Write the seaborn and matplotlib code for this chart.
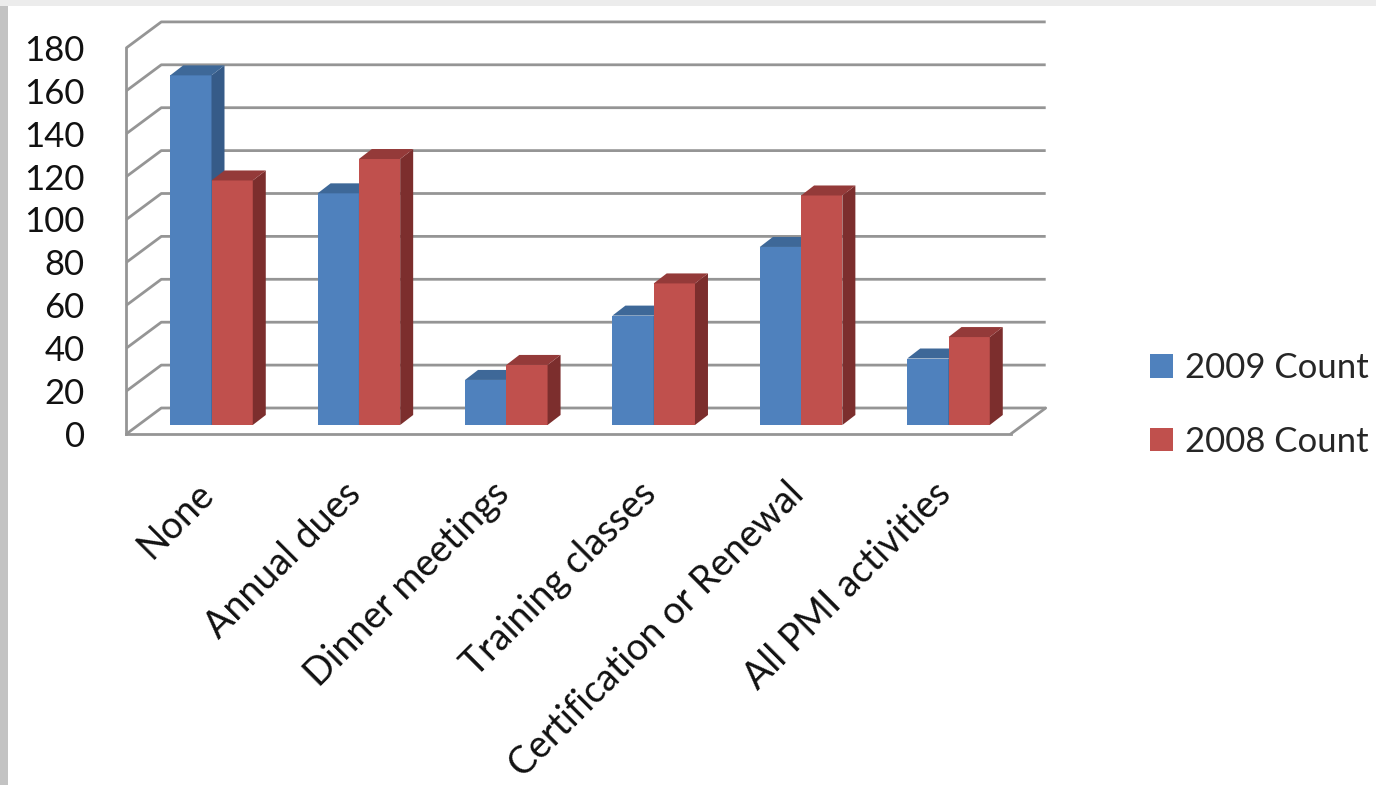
import numpy as np
import pandas as pd
import seaborn as sns
from matplotlib import pyplot as plt
from matplotlib.patches import Polygon, Patch, Rectangle

categories = ["None", "Annual dues", "Dinner meetings", "Training classes",
              "Certification or Renewal", "All PMI activities"]
count_2009 = [163, 108, 21, 51, 83, 31]
count_2008 = [114, 124, 28, 66, 107, 41]
series = ["2009 Count", "2008 Count"]
y_ticks = list(range(0, 181, 20))

front_colors = ["#4F81BD", "#C0504D"]
side_colors = ["#365B88", "#7C2E2D"]
top_colors = ["#3E6898", "#943A39"]
grid_color = "#959595"

df = pd.DataFrame({"category": categories * 2,
                   "count": count_2009 + count_2008,
                   "series": [series[0]] * len(categories) + [series[1]] * len(categories)})

W, H = 1376, 785
px_cat = 147.4   # pixels per category
px_val = 2.145   # pixels per count
x0_px, y0_px = 211.5, 425  # where the bar plane origin sits in the picture

# fake 3d: offsets of front wall, back wall and bar depth, in data units
front_dx, front_dy = -11.5 / px_cat, -9 / px_val
back_dx, back_dy = 23.5 / px_cat, 17 / px_val
bar_dx, bar_dy = 13 / px_cat, 10 / px_val

sns.set_style("white")
plt.rcParams["font.family"] = ["Lato", "DejaVu Sans"]

fig = plt.figure(figsize=(W / 100, H / 100), dpi=100)
ax = fig.add_axes([0, 0, 1, 1])

sns.barplot(data=df, x="category", y="count", hue="series", palette=front_colors,
            width=0.56, linewidth=0, saturation=1, errorbar=None, legend=False, ax=ax)

n = len(categories)
for k, bar in enumerate(ax.patches[:2 * n]):
    j = k // n
    x, w, h = bar.get_x(), bar.get_width(), bar.get_height()
    bar.set_zorder(3 + j)
    side = Polygon([(x + w, 0), (x + w + bar_dx, bar_dy), (x + w + bar_dx, h + bar_dy), (x + w, h)],
                   closed=True, facecolor=side_colors[j], edgecolor="none", zorder=3 + j)
    top = Polygon([(x, h), (x + bar_dx, h + bar_dy), (x + w + bar_dx, h + bar_dy), (x + w, h)],
                  closed=True, facecolor=top_colors[j], edgecolor="none", zorder=3 + j)
    ax.add_patch(side)
    ax.add_patch(top)

# walls and floor
xfl, xfr = -0.5 + front_dx, n - 0.5 + front_dx
xbl, xbr = -0.5 + back_dx, n - 0.5 + back_dx
for v in y_ticks:
    ax.plot([xfl, xbl, xbr], [v + front_dy, v + back_dy, v + back_dy],
            color=grid_color, lw=2.0, zorder=1, solid_capstyle="butt")
ax.plot([xfr, xbr], [front_dy, back_dy], color=grid_color, lw=2.0, zorder=1)

ax.set_xlim(-x0_px / px_cat, (W - x0_px) / px_cat)
ax.set_ylim((y0_px - H) / px_val, y0_px / px_val)
ax.set_xlabel("")
ax.set_ylabel("")

for s in ["top", "right"]:
    ax.spines[s].set_visible(False)
for s in ["left", "bottom"]:
    ax.spines[s].set_color(grid_color)
    ax.spines[s].set_linewidth(2.0)
ax.spines["left"].set_position(("data", xfl))
ax.spines["left"].set_bounds(front_dy, y_ticks[-1] + front_dy)
ax.spines["bottom"].set_position(("data", front_dy))
ax.spines["bottom"].set_bounds(xfl, xfr)

ax.set_yticks([v + front_dy for v in y_ticks], labels=[str(v) for v in y_ticks])
ax.tick_params(axis="y", direction="out", length=12, width=1.5, color=grid_color,
               pad=18, labelsize=25, labelcolor="#111111")

ax.set_xticks([i + front_dx - 0.03 for i in range(n)], labels=categories)
ax.set_xticks([k - 0.5 + front_dx for k in range(n + 1)], minor=True)
ax.tick_params(axis="x", which="major", length=0, pad=30, labelsize=27, labelcolor="#111111")
ax.tick_params(axis="x", which="minor", direction="out", length=11, width=1.5, color=grid_color)
for lab in ax.get_xticklabels():
    lab.set_rotation(45)
    lab.set_ha("right")
    lab.set_rotation_mode("anchor")

handles = [Patch(facecolor=c, edgecolor="none") for c in front_colors]
ax.legend(handles, series, loc="center left", bbox_to_anchor=(1150 / W, 1 - 405 / H),
          bbox_transform=fig.transFigure, frameon=False, fontsize=25,
          handlelength=0.65, handleheight=0.65, handletextpad=0.35,
          labelspacing=1.2, borderpad=0, borderaxespad=0)

# grey frame of the screenshot
fig.add_artist(Rectangle((0, 0), 8 / W, 1, transform=fig.transFigure,
                         facecolor="#C3C3C3", edgecolor="none"))
fig.add_artist(Rectangle((0, 1 - 6 / H), 1, 6 / H, transform=fig.transFigure,
                         facecolor="#ECECEC", edgecolor="none"))

fig.savefig("out.png", dpi=100)
